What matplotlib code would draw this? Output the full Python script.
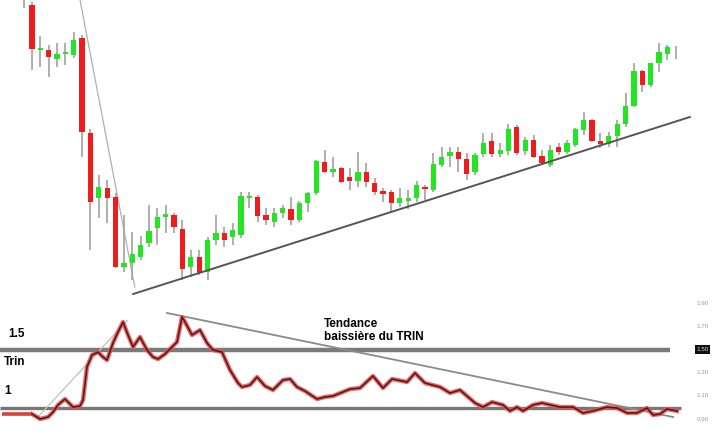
import matplotlib
matplotlib.use("Agg")
import matplotlib.pyplot as plt
from matplotlib.patches import Rectangle

plt.rcParams['font.family'] = ['Liberation Sans', 'DejaVu Sans']

# candles: open, high, low, close (price levels)
opens = [310, 295, 250, 250, 241, 246, 245, 262, 167, 102, 112, 103, 33, 37, 43, 57, 72, 83, 85, 71,
         33, 43, 28, 60, 67, 63, 65, 102, 103, 85, 78, 87, 91, 80, 97, 107, 138, 128, 132, 123,
         119, 128, 117, 109, 108, 97, 99, 102, 113, 110, 135, 144, 148, 141, 128, 146, 159, 146, 149, 173,
         149, 160, 144, 135, 153, 148, 155, 170, 180, 159, 156, 164, 176, 194, 229, 215, 237, 246, 252]
highs = [330, 298, 264, 255, 257, 257, 268, 265, 171, 125, 120, 107, 85, 68, 64, 95, 92, 95, 87, 80,
         50, 50, 63, 85, 73, 77, 108, 108, 105, 92, 92, 95, 103, 99, 108, 140, 150, 143, 133, 132,
         148, 137, 122, 112, 110, 112, 110, 119, 115, 147, 153, 153, 153, 147, 147, 167, 167, 157, 176, 175,
         163, 165, 150, 155, 157, 160, 172, 188, 181, 167, 168, 180, 207, 237, 230, 237, 257, 255, 254]
lows = [292, 230, 233, 223, 233, 235, 242, 143, 50, 82, 77, 32, 28, 20, 40, 53, 55, 67, 67, 20,
        23, 25, 20, 55, 53, 55, 62, 92, 78, 75, 73, 82, 75, 78, 88, 105, 127, 123, 117, 110,
        113, 113, 105, 98, 88, 93, 91, 98, 100, 108, 133, 133, 128, 120, 125, 143, 143, 143, 145, 145,
        145, 142, 135, 133, 145, 146, 153, 165, 158, 152, 153, 153, 173, 193, 208, 213, 228, 240, 241]
closes = [320, 251, 252, 243, 246, 248, 260, 168, 98, 113, 102, 33, 37, 46, 55, 69, 83, 86, 73, 31,
          43, 27, 60, 67, 60, 70, 104, 103, 84, 80, 87, 92, 80, 97, 107, 139, 128, 131, 118, 119,
          128, 118, 108, 106, 97, 102, 102, 115, 111, 136, 143, 148, 141, 126, 145, 157, 146, 150, 171, 147,
          160, 143, 137, 150, 148, 157, 171, 180, 159, 156, 164, 176, 194, 229, 215, 237, 248, 253, 252]

# trend lines drawn on the price panel (bar index, price)
steep_line = ([6.75, 13.3], [300, 13])
support_line = ([13.1, 79.7], [6, 183])

# TRIN indicator (bar index, value)
trin_t = [1.0, 1.6, 1.96, 2.92, 3.52, 4.11, 4.95, 5.31, 5.91, 6.75, 7.11, 7.58, 8.18, 8.9, 9.5, 9.98,
          10.69, 11.29, 11.89, 12.49, 13.09, 13.92, 14.76, 15.48, 16.08, 16.91, 17.75, 18.35, 18.95,
          19.31, 20.14, 21.1, 21.94, 22.66, 23.73, 24.69, 25.65, 26.12, 27.08, 27.92, 28.88, 29.83,
          31.03, 31.87, 32.7, 33.66, 35.1, 36.05, 37.01, 39.04, 40.24, 41.79, 42.99, 44.07, 45.86,
          46.82, 48.01, 49.81, 51.0, 52.2, 54.0, 54.95, 56.03, 57.34, 58.18, 59.02, 59.74, 60.93,
          62.01, 64.16, 65.72, 66.91, 68.11, 69.78, 70.98, 72.18, 73.37, 74.57, 75.29, 76.12, 76.96, 78.16]
trin_v = [0.944, 0.918, 0.901, 0.918, 0.961, 1.022, 1.073, 1.047, 1.004, 1.013, 1.065, 1.349, 1.453,
          1.478, 1.435, 1.409, 1.556, 1.651, 1.737, 1.625, 1.522, 1.608, 1.496, 1.435, 1.418, 1.461,
          1.522, 1.565, 1.780, 1.737, 1.625, 1.668, 1.556, 1.496, 1.478, 1.323, 1.211, 1.177, 1.194,
          1.263, 1.185, 1.151, 1.237, 1.246, 1.177, 1.142, 1.073, 1.091, 1.099, 1.159, 1.168, 1.272,
          1.168, 1.246, 1.220, 1.297, 1.211, 1.177, 1.125, 1.151, 1.039, 1.004, 1.047, 1.022, 0.970,
          1.004, 0.970, 1.022, 1.039, 1.004, 1.004, 0.953, 0.970, 1.004, 0.996, 0.953, 0.953, 0.996,
          0.935, 0.944, 0.987, 0.970]
trin_start = ([-2.6, 1.0], [0.944, 0.944])
trin_up_line = ([1.6, 12.4], [0.91, 1.75])
trin_down_line = ([17.15, 77.7], [1.815, 0.918])
trin_ticks = [1.90, 1.70, 1.50, 1.30, 1.10, 0.90]

XLIM = (-2.823, 82.94)

fig = plt.figure(figsize=(7.17, 4.4), dpi=100)
ax = fig.add_axes([0, 140 / 440, 1, 300 / 440])
ax2 = fig.add_axes([0, 0, 1, 140 / 440])
for a in (ax, ax2):
    a.set_xlim(*XLIM)
    a.axis('off')
ax.set_ylim(0, 300)
ax2.set_ylim(0.72, 1.927)

# candlesticks
w = 0.63
for i, (o, h, l, c) in enumerate(zip(opens, highs, lows, closes)):
    ax.plot([i, i], [l, h], color='#a8a8a8', lw=1.3, zorder=2, solid_capstyle='butt')
    if o == c:
        continue
    col = '#22e622' if c > o else '#ee1c1c'
    lo, hi = min(o, c), max(o, c)
    if hi - lo < 2:
        hi = lo + 2
    ax.add_patch(Rectangle((i - w / 2, lo), w, hi - lo, facecolor=col, edgecolor='none', zorder=3))

ax.plot(*steep_line, color='#b0b0b0', lw=0.9, zorder=1)
ax.plot(*support_line, color='#555555', lw=1.4, zorder=4)

# TRIN panel
ax2.hlines(1.5, XLIM[0], 77.3, color='#7a7a7a', lw=3.2)
ax2.hlines(1.0, XLIM[0], 78.6, color='#777777', lw=2.4)
ax2.plot(*trin_up_line, color='#c0c0c0', lw=0.9)
ax2.plot(*trin_down_line, color='#8a8a8a', lw=1.3)
ax2.plot(*trin_start, color='#d9403a', lw=2.6, solid_capstyle='butt')
ax2.plot(trin_t, trin_v, color='#d85a5a', lw=3.2, alpha=0.85, solid_joinstyle='round')
ax2.plot(trin_t, trin_v, color='#6e1010', lw=1.2, solid_joinstyle='round')

for v in trin_ticks:
    if v == 1.50:
        ax2.text(81.2, v, '%.2f' % v, fontsize=4.5, color='#dddddd', ha='center', va='center',
                 bbox=dict(boxstyle='square,pad=0.25', fc='#111111', ec='none'))
    else:
        ax2.text(81.2, v, '%.2f' % v, fontsize=4.5, color='#999999', ha='center', va='center')

fig.text(8 / 717, 1 - 334 / 440, '1.5', fontsize=8.5, fontweight='bold', va='center', ha='left')
fig.text(4 / 717, 1 - 362 / 440, 'Trin', fontsize=8.5, fontweight='bold', va='center', ha='left')
fig.text(4 / 717, 1 - 391 / 440, '1', fontsize=8.5, fontweight='bold', va='center', ha='left')
fig.text(324 / 717, 1 - 318 / 440, 'Tendance\nbaissière du TRIN', fontsize=8.5, fontweight='bold',
         va='top', ha='left', linespacing=1.15)

fig.savefig('out.png', dpi=100, facecolor='white')
